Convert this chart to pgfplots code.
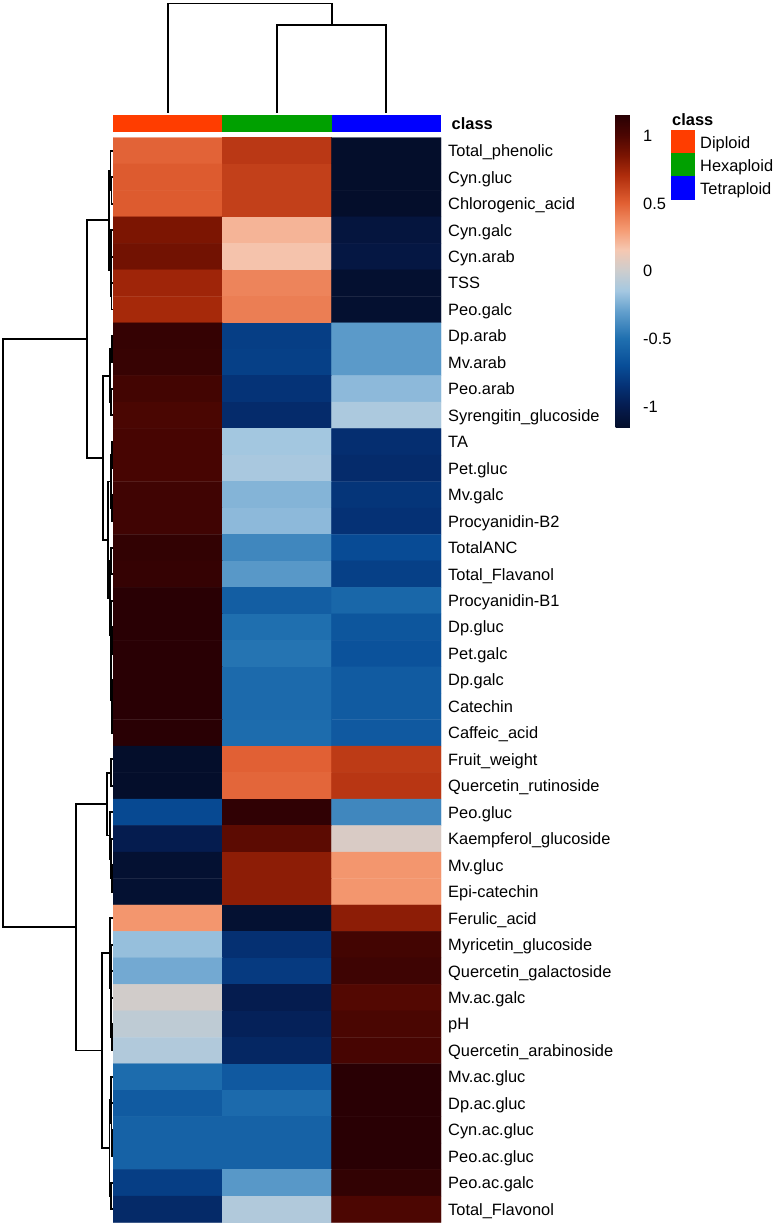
\documentclass[border=0pt]{standalone}
\usepackage{pgfplots}
\pgfplotsset{compat=1.18}
\usepackage{pgfplotstable}
\usepackage{fontspec}
\setmainfont{Liberation Sans}
\newcommand\lbl{\fontsize{16.4pt}{19pt}\selectfont}
\definecolor{dip}{RGB}{255,61,0}
\definecolor{hexa}{RGB}{0,160,0}
\definecolor{tetra}{RGB}{0,0,255}
\pgfplotsset{
  colormap={heat}{
    rgb255(0mm)=(4,14,42);
    rgb255(16mm)=(5,28,80);
    rgb255(31mm)=(5,50,118);
    rgb255(46mm)=(8,78,152);
    rgb255(66mm)=(32,112,176);
    rgb255(86mm)=(100,160,205);
    rgb255(101mm)=(165,200,225);
    rgb255(116mm)=(205,205,205);
    rgb255(131mm)=(245,200,178);
    rgb255(146mm)=(245,155,115);
    rgb255(166mm)=(225,95,50);
    rgb255(186mm)=(175,45,12);
    rgb255(201mm)=(122,20,2);
    rgb255(216mm)=(75,6,2);
    rgb255(231mm)=(40,0,4);
  },
  every axis/.append style={font=\lbl},
}

% scaled values: x = class (0 Diploid, 1 Hexaploid, 2 Tetraploid), y = row
\pgfplotstableread{
x y c
0 0 0.49
1 0 0.66
2 0 -1.15
0 1 0.52
1 1 0.63
2 1 -1.15
0 2 0.52
1 2 0.63
2 2 -1.15
0 3 0.85
1 3 0.22
2 3 -1.07
0 4 0.88
1 4 0.17
2 4 -1.05
0 5 0.75
1 5 0.38
2 5 -1.13
0 6 0.73
1 6 0.40
2 6 -1.13
0 7 1.10
1 7 -0.78
2 7 -0.32
0 8 1.09
1 8 -0.77
2 8 -0.32
0 9 1.04
1 9 -0.84
2 9 -0.20
0 10 1.01
1 10 -0.89
2 10 -0.12
0 11 1.02
1 11 -0.15
2 11 -0.87
0 12 1.02
1 12 -0.13
2 12 -0.89
0 13 1.05
1 13 -0.22
2 13 -0.83
0 14 1.05
1 14 -0.20
2 14 -0.85
0 15 1.11
1 15 -0.40
2 15 -0.71
0 16 1.10
1 16 -0.33
2 16 -0.77
0 17 1.15
1 17 -0.60
2 17 -0.55
0 18 1.15
1 18 -0.50
2 18 -0.65
0 19 1.15
1 19 -0.48
2 19 -0.67
0 20 1.15
1 20 -0.53
2 20 -0.62
0 21 1.15
1 21 -0.53
2 21 -0.62
0 22 1.15
1 22 -0.52
2 22 -0.63
0 23 -1.15
1 23 0.50
2 23 0.65
0 24 -1.15
1 24 0.48
2 24 0.67
0 25 -0.72
1 25 1.12
2 25 -0.40
0 26 -1.00
1 26 0.95
2 26 0.05
0 27 -1.12
1 27 0.80
2 27 0.32
0 28 -1.12
1 28 0.80
2 28 0.32
0 29 0.32
1 29 -1.12
2 29 0.80
0 30 -0.18
1 30 -0.86
2 30 1.04
0 31 -0.26
1 31 -0.80
2 31 1.06
0 32 0.02
1 32 -1.00
2 32 0.98
0 33 -0.05
1 33 -0.96
2 33 1.01
0 34 -0.10
1 34 -0.92
2 34 1.02
0 35 -0.52
1 35 -0.63
2 35 1.15
0 36 -0.62
1 36 -0.53
2 36 1.15
0 37 -0.58
1 37 -0.58
2 37 1.15
0 38 -0.58
1 38 -0.58
2 38 1.15
0 39 -0.78
1 39 -0.33
2 39 1.11
0 40 -0.90
1 40 -0.10
2 40 1.00
}\heatdata

% row dendrogram: x = pixel distance from left edge, y = row index
\pgfplotstableread{
x y
113 1
111.5 1
111.5 2
113 2
nan nan
113 0
110.5 0
110.5 1.5
111.5 1.5
nan nan
113 3
111 3
111 4
113 4
nan nan
113 5
111.5 5
111.5 6
113 6
nan nan
111 3.5
110.8 3.5
110.8 5.5
111.5 5.5
nan nan
110.5 0.75
109 0.75
109 4.5
110.8 4.5
nan nan
113 7
111.8 7
111.8 8
113 8
nan nan
113 9
111.3 9
111.3 10
113 10
nan nan
111.8 7.5
110 7.5
110 9.5
111.3 9.5
nan nan
113 11
111.8 11
111.8 12
113 12
nan nan
113 13
111.8 13
111.8 14
113 14
nan nan
111.8 11.5
111 11.5
111 13.5
111.8 13.5
nan nan
113 15
111.2 15
111.2 16
113 16
nan nan
113 18
111.9 18
111.9 19
113 19
nan nan
113 21
111.9 21
111.9 22
113 22
nan nan
113 20
111.7 20
111.7 21.5
111.9 21.5
nan nan
111.9 18.5
111.4 18.5
111.4 20.75
111.7 20.75
nan nan
113 17
111 17
111 19.625
111.4 19.625
nan nan
111.2 15.5
110 15.5
110 18.3125
111 18.3125
nan nan
111 12.5
107.7 12.5
107.7 16.90625
110 16.90625
nan nan
110 8.5
102.7 8.5
102.7 14.703125
107.7 14.703125
nan nan
109 2.625
87 2.625
87 11.6015625
102.7 11.6015625
nan nan
113 23
111.3 23
111.3 24
113 24
nan nan
113 27
111.6 27
111.6 28
113 28
nan nan
113 26
111 26
111 27.5
111.6 27.5
nan nan
113 25
110.3 25
110.3 26.75
111 26.75
nan nan
111.3 23.5
106.7 23.5
106.7 25.875
110.3 25.875
nan nan
113 30
111.4 30
111.4 31
113 31
nan nan
113 33
111.7 33
111.7 34
113 34
nan nan
113 32
111.3 32
111.3 33.5
111.7 33.5
nan nan
111.4 30.5
110.8 30.5
110.8 32.75
111.3 32.75
nan nan
113 29
110 29
110 31.625
110.8 31.625
nan nan
113 37
112 37
112 38
113 38
nan nan
113 36
111.5 36
111.5 37.5
112 37.5
nan nan
113 35
111 35
111 36.75
111.5 36.75
nan nan
113 39
111.3 39
111.3 40
113 40
nan nan
111 35.875
109.5 35.875
109.5 39.5
111.3 39.5
nan nan
110 30.3125
101.7 30.3125
101.7 37.6875
109.5 37.6875
nan nan
106.7 24.6875
76 24.6875
76 34
101.7 34
nan nan
87 7.11328
3 7.11328
3 29.34375
76 29.34375
}\rowdendro

\begin{document}
\begin{tikzpicture}
\useasboundingbox (0pt,0pt) rectangle (777pt,-1230pt);

% heatmap
\begin{axis}[
  at={(113pt,-137.5pt)}, anchor=north west,
  scale only axis, width=328pt, height=1085pt,
  xmin=-0.5, xmax=2.5, ymin=-0.5, ymax=40.5, y dir=reverse,
  axis line style={draw=none}, major tick length=0pt,
  xtick=\empty, ytick={0,...,40},
  yticklabels={Total\_phenolic, Cyn.gluc, Chlorogenic\_acid, Cyn.galc, Cyn.arab, TSS, Peo.galc, Dp.arab, Mv.arab, Peo.arab, Syrengitin\_glucoside, TA, Pet.gluc, Mv.galc, Procyanidin-B2, TotalANC, Total\_Flavanol, Procyanidin-B1, Dp.gluc, Pet.galc, Dp.galc, Catechin, Caffeic\_acid, Fruit\_weight, Quercetin\_rutinoside, Peo.gluc, Kaempferol\_glucoside, Mv.gluc, Epi-catechin, Ferulic\_acid, Myricetin\_glucoside, Quercetin\_galactoside, Mv.ac.galc, pH, Quercetin\_arabinoside, Mv.ac.gluc, Dp.ac.gluc, Cyn.ac.gluc, Peo.ac.gluc, Peo.ac.galc, Total\_Flavonol},
  yticklabel pos=right,
  yticklabel style={font=\lbl, anchor=base west, inner sep=0pt, xshift=7pt, yshift=-5.9pt},
  colormap name=heat, point meta min=-1.1547, point meta max=1.1547,
  colorbar,
  colorbar style={
    at={(parent axis.north east)}, anchor=north west, xshift=166pt, yshift=23pt,
    scale only axis, width=22pt, height=313pt,
    axis line style={draw=none}, major tick length=0pt,
    ytick={-1,-0.5,0,0.5,1}, yticklabels={-1,-0.5,0,0.5,1},
    yticklabel style={font=\lbl, anchor=base west, inner sep=0pt, xshift=5.5pt, yshift=-5.9pt},
  },
]
\addplot[matrix plot*, mesh/cols=3, point meta=explicit] table[x=x, y=y, meta=c] {\heatdata};
\end{axis}

% class annotation bar
\begin{axis}[
  at={(113pt,-115pt)}, anchor=north west,
  scale only axis, width=328pt, height=17pt,
  xmin=-0.5, xmax=2.5, ymin=0, ymax=1, hide axis, clip=false,
]
\addplot[fill=dip, draw=none] coordinates {(-0.5,0) (0.5,0) (0.5,1) (-0.5,1)};
\addplot[fill=hexa, draw=none] coordinates {(0.5,0) (1.5,0) (1.5,1) (0.5,1)};
\addplot[fill=tetra, draw=none] coordinates {(1.5,0) (2.5,0) (2.5,1) (1.5,1)};
\node[anchor=base west, inner sep=0pt, font=\lbl\bfseries, xshift=10.5pt, yshift=-6pt] at (axis cs:2.5,0.5) {class};
\end{axis}

% column dendrogram
\begin{axis}[
  at={(113pt,-3pt)}, anchor=north west,
  scale only axis, width=328pt, height=110pt,
  xmin=-0.5, xmax=2.5, ymin=0, ymax=110, hide axis, clip=false,
]
\addplot[black, line width=1.9pt] coordinates {(0,0) (0,109.5) (1.5,109.5) (1.5,88)};
\addplot[black, line width=1.9pt] coordinates {(1,0) (1,88) (2,88) (2,0)};
\end{axis}

% row dendrogram
\begin{axis}[
  at={(0pt,-137.5pt)}, anchor=north west,
  scale only axis, width=113pt, height=1085pt,
  xmin=0, xmax=113, ymin=-0.5, ymax=40.5, y dir=reverse, hide axis, clip=false,
]
\addplot[black, line width=1.9pt, unbounded coords=jump] table[x=x, y=y] {\rowdendro};
\end{axis}

% class legend
\begin{axis}[
  at={(671pt,-113pt)}, anchor=north west,
  scale only axis, width=100pt, height=90pt,
  xmin=0, xmax=100, ymin=0, ymax=90, y dir=reverse, hide axis, clip=false,
]
\addplot[fill=dip, draw=none] coordinates {(0,17) (24,17) (24,40) (0,40)};
\addplot[fill=hexa, draw=none] coordinates {(0,40) (24,40) (24,63) (0,63)};
\addplot[fill=tetra, draw=none] coordinates {(0,63) (24,63) (24,87) (0,87)};
\node[anchor=base west, inner sep=0pt, font=\lbl\bfseries] at (axis cs:1,13) {class};
\node[anchor=base west, inner sep=0pt] at (axis cs:29,35) {Diploid};
\node[anchor=base west, inner sep=0pt] at (axis cs:29,58.5) {Hexaploid};
\node[anchor=base west, inner sep=0pt] at (axis cs:29,81.5) {Tetraploid};
\end{axis}
\end{tikzpicture}
\end{document}
